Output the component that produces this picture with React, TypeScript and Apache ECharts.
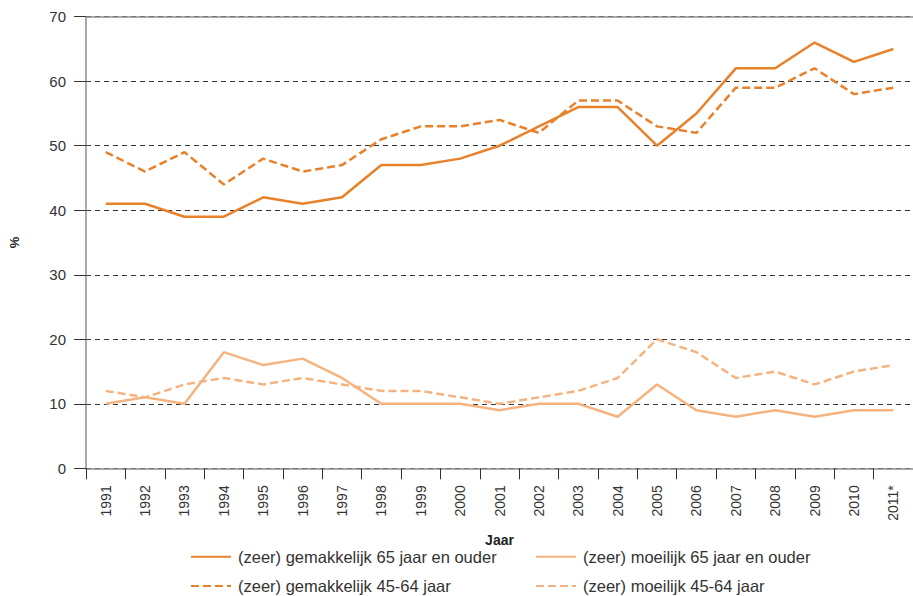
import React, { useEffect, useRef } from "react";
import * as echarts from "echarts";

const years = ["1991","1992","1993","1994","1995","1996","1997","1998","1999","2000","2001","2002","2003","2004","2005","2006","2007","2008","2009","2010","2011*"];
const gemakkelijk65 = [41,41,39,39,42,41,42,47,47,48,50,53,56,56,50,55,62,62,66,63,65];
const gemakkelijk4564 = [49,46,49,44,48,46,47,51,53,53,54,52,57,57,53,52,59,59,62,58,59];
const moeilijk65 = [10,11,10,18,16,17,14,10,10,10,9,10,10,8,13,9,8,9,8,9,9];
const moeilijk4564 = [12,11,13,14,13,14,13,12,12,11,10,11,12,14,20,18,14,15,13,15,16];
const yTicks = { min: 0, max: 70, interval: 10 };

const names = [
  "(zeer) gemakkelijk 65 jaar en ouder",
  "(zeer) moeilijk 65 jaar en ouder",
  "(zeer) gemakkelijk 45-64 jaar",
  "(zeer) moeilijk 45-64 jaar",
];

const DARK = "#E9812A";
const LIGHT = "#F5B47F";

export default function App() {
  const ref = useRef<HTMLDivElement>(null);
  useEffect(() => {
    if (!ref.current) return;
    const chart = echarts.init(ref.current, undefined, { renderer: "svg" });
    const axisGray = { color: "#8c8c8c", width: 1.5 };
    const font = "'Liberation Sans', Arial, sans-serif";
    const mk = (name: string, data: number[], color: string, dashed: boolean) => ({
      name,
      type: "line",
      data,
      xAxisIndex: 0,
      symbol: "none",
      lineStyle: { color, width: 2.5, type: dashed ? [8, 4] : "solid" },
      itemStyle: { color },
    });
    const lg = (name: string, left: number, top: number) => ({
      orient: "horizontal",
      left,
      top,
      padding: 0,
      itemWidth: 40,
      itemHeight: 14,
      data: [name],
      itemStyle: { opacity: 0, borderWidth: 0 },
      textStyle: { fontSize: 16.5, color: "#333", padding: [0, 0, 0, 2] },
    });
    chart.setOption({
      animation: false,
      textStyle: { fontFamily: font },
      grid: { left: 83.5, right: -7.4, top: 16.7, bottom: 127.7, containLabel: false },
      xAxis: [
        {
          type: "category",
          data: years,
          boundaryGap: true,
          axisLine: { show: true, lineStyle: axisGray },
          axisTick: { show: true, length: 11, lineStyle: { color: "#333", width: 1 } },
          axisLabel: { rotate: 90, margin: 17, fontSize: 14, color: "#333", interval: 0 },
          splitLine: { show: false },
          name: "Jaar",
          nameLocation: "middle",
          nameGap: 65,
          nameTextStyle: { fontWeight: "bold", fontSize: 14, color: "#222" },
        },
        {
          type: "category",
          data: years,
          position: "top",
          axisLine: { show: true, lineStyle: axisGray },
          axisTick: { show: false },
          axisLabel: { show: false },
          splitLine: { show: false },
        },
      ],
      yAxis: {
        type: "value",
        min: yTicks.min,
        max: yTicks.max,
        interval: yTicks.interval,
        axisLine: { show: true, lineStyle: axisGray },
        axisTick: { show: true, length: 12, lineStyle: { color: "#333", width: 1 } },
        axisLabel: { margin: 20, fontSize: 15, color: "#333" },
        splitLine: { show: true, lineStyle: { type: [5, 4], color: "#333", width: 1 } },
        name: "%",
        nameLocation: "middle",
        nameRotate: 90,
        nameGap: 65,
        nameTextStyle: { fontWeight: "bold", fontSize: 13, color: "#222" },
      },
      legend: [
        lg(names[0], 190, 548.3),
        lg(names[2], 190, 577.5),
        lg(names[1], 535, 548.3),
        lg(names[3], 535, 577.5),
      ],
      series: [
        mk(names[3], moeilijk4564, LIGHT, true),
        mk(names[1], moeilijk65, LIGHT, false),
        mk(names[2], gemakkelijk4564, DARK, true),
        mk(names[0], gemakkelijk65, DARK, false),
      ],
    });
    return () => chart.dispose();
  }, []);
  return (
    <div
      ref={ref}
      style={{ position: "fixed", left: 0, top: 0, width: 913, height: 596, background: "#fff" }}
    />
  );
}
